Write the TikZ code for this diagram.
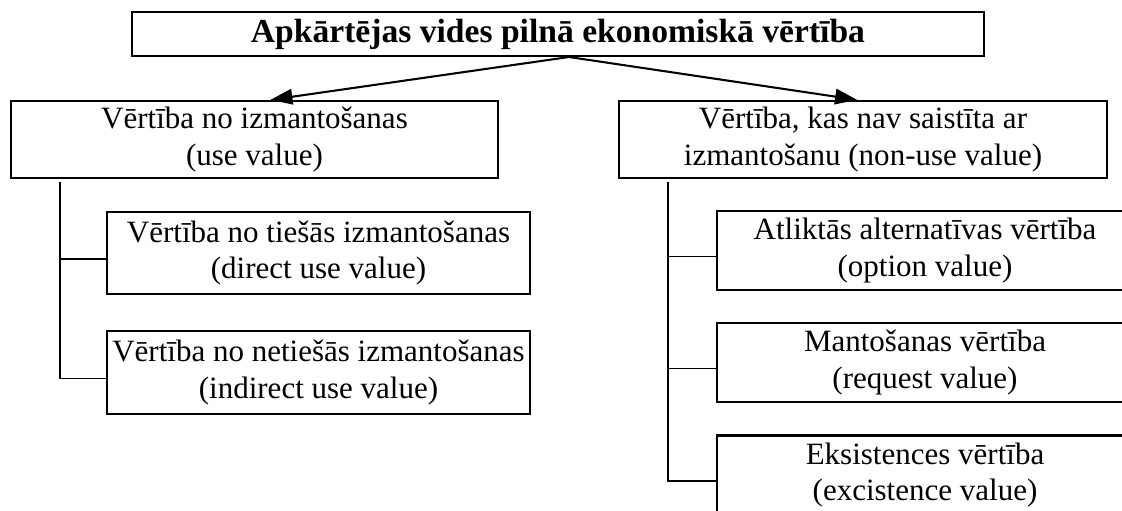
\documentclass[tikz,border=0pt]{standalone}
\usepackage{fontspec}
\setmainfont{Liberation Serif}
\usetikzlibrary{arrows.meta, calc, positioning}
\def\px{0.387pt}
\def\trunkL{60}
\def\trunkR{668}
\def\tapDrop{6}

\begin{document}
\begin{tikzpicture}[x=\px, y=-\px,
    box/.style={draw, line width=0.9pt, align=center, inner sep=0pt,
        font=\fontsize{12}{14}\selectfont},
    titlebox/.style={box, font=\fontsize{13}{15}\selectfont\bfseries},
    link/.style={line width=0.6pt},
    split/.style={line width=0.8pt, -{Triangle[length=8.5pt, width=6pt]}}]

    \useasboundingbox (0,0) rectangle (1122,510);
    \clip (0,0) rectangle (1122,510);

    % Draw top box
    \node[titlebox, minimum width=852*\px, minimum height=44*\px] (total) at (558,34)
        {Apkārtējas vides pilnā ekonomiskā vērtība};

    % Draw the two main groups
    \node[box, minimum width=487*\px, minimum height=77*\px] (use) at (254.5,139.5)
        {Vērtība no izmantošanas\\(use value)};
    \node[box, minimum width=488*\px, minimum height=77*\px] (nonuse) at (863,139.5)
        {Vērtība, kas nav saistīta ar\\izmantošanu (non-use value)};

    \coordinate (fork) at (569,57);
    \draw[split] (fork) -- ($(use.north)+(16,0)$);
    \draw[split] (fork) -- ($(nonuse.north)+(-6,0)$);

    % Draw left lane
    \node[box, minimum width=423*\px, minimum height=82*\px] (direct) at (318.5,253)
        {Vērtība no tiešās izmantošanas\\(direct use value)};
    \node[box, minimum width=423*\px, minimum height=83*\px] (indirect) at (318.5,372.5)
        {Vērtība no netiešās izmantošanas\\(indirect use value)};

    \coordinate (useTrunk) at (\trunkL,182);
    \foreach \name in {direct, indirect} {
        \coordinate (\name-in) at ($(\name.west)+(0,\tapDrop)$);
    }
    \draw[link] (useTrunk) |- (indirect-in);
    \draw[link] (useTrunk |- direct-in) -- (direct-in);

    % Draw right lane
    \foreach \name/\yy/\txt in {option/250.5/{Atliktās alternatīvas vērtība\\(option value)},
                                request/362.5/{Mantošanas vērtība\\(request value)},
                                exist/475/{Eksistences vērtība\\(excistence value)}} {
        \node[box, minimum width=416*\px, minimum height=79*\px] (\name) at (925,\yy) {\txt};
        \coordinate (\name-in) at ($(\name.west)+(0,\tapDrop)$);
    }

    \coordinate (nonuseTrunk) at (\trunkR,182);
    \draw[link] (nonuseTrunk) |- (exist-in);
    \foreach \name in {option, request} {
        \draw[link] (nonuseTrunk |- \name-in) -- (\name-in);
    }

\end{tikzpicture}
\end{document}
